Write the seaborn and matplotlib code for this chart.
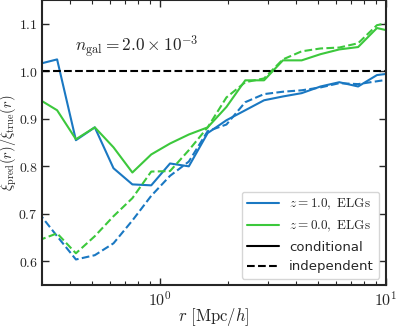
import math
import matplotlib
matplotlib.use("Agg")
import matplotlib.pyplot as plt
from matplotlib.lines import Line2D
from matplotlib.ticker import FuncFormatter, LogLocator, MultipleLocator, NullLocator
import pandas as pd
import seaborn as sns

# separation bins [Mpc/h]
r_bins = [0.289, 0.350, 0.424, 0.514, 0.622, 0.754, 0.914, 1.107, 1.341, 1.625,
          1.968, 2.384, 2.888, 3.499, 4.239, 5.135, 6.221, 7.536, 9.13, 11.06]

# xi_pred / xi_true
z1_conditional = [1.015, 1.025, 0.855, 0.882, 0.796, 0.762, 0.760, 0.806, 0.800, 0.870,
                  0.897, 0.918, 0.939, 0.947, 0.954, 0.968, 0.977, 0.968, 0.992, 0.997]
z1_independent = [0.703, 0.653, 0.604, 0.613, 0.638, 0.686, 0.738, 0.780, 0.810, 0.874,
                  0.888, 0.935, 0.952, 0.957, 0.960, 0.966, 0.975, 0.973, 0.979, 0.985]
z0_conditional = [0.942, 0.918, 0.857, 0.882, 0.840, 0.787, 0.825, 0.848, 0.867, 0.882,
                  0.925, 0.981, 0.981, 1.023, 1.023, 1.036, 1.046, 1.051, 1.091, 1.082]
z0_independent = [0.644, 0.659, 0.617, 0.653, 0.695, 0.733, 0.789, 0.790, 0.834, 0.882,
                  0.945, 0.977, 0.985, 1.025, 1.042, 1.048, 1.050, 1.059, 1.097, 1.105]

samples = [r"$z=1.0,\ {\rm ELGs}$", r"$z=0.0,\ {\rm ELGs}$"]
methods = ["conditional", "independent"]
colors = {samples[0]: "#1a78c2", samples[1]: "#3cc83c"}

rows = []
for sample, method, vals in [(samples[0], methods[0], z1_conditional),
                             (samples[0], methods[1], z1_independent),
                             (samples[1], methods[0], z0_conditional),
                             (samples[1], methods[1], z0_independent)]:
    for r, v in zip(r_bins, vals):
        rows.append({"r": r, "ratio": v, "sample": sample, "method": method})
df = pd.DataFrame(rows)

sns.set_style("ticks")
plt.rcParams["font.family"] = ["DejaVu Sans"]
plt.rcParams["mathtext.fontset"] = "cm"

fig = plt.figure(figsize=(3.98, 3.27), dpi=100)
ax = fig.add_axes([0.1055, 0.128, 0.864, 0.872])

sns.lineplot(data=df, x="r", y="ratio", hue="sample", style="method",
             palette=colors, dashes={"conditional": "", "independent": (3.7, 1.6)},
             hue_order=samples, style_order=methods,
             linewidth=1.5, legend=False, ax=ax, estimator=None)

ax.axhline(1.0, color="black", ls="--", lw=1.5, dashes=(3.7, 1.6))

ax.set_xscale("log")
ax.set_xlim(0.3, 10)
ax.set_ylim(0.55, 1.15)

ax.xaxis.set_major_locator(LogLocator(base=10))
ax.xaxis.set_minor_locator(LogLocator(base=10, subs=range(2, 10)))
ax.xaxis.set_major_formatter(FuncFormatter(lambda v, p: r"$10^{%d}$" % round(math.log10(v))))
ax.xaxis.set_minor_formatter(FuncFormatter(lambda v, p: ""))
ax.yaxis.set_major_locator(MultipleLocator(0.1))
ax.yaxis.set_minor_locator(NullLocator())
ax.yaxis.set_major_formatter(FuncFormatter(lambda v, p: r"$%.1f$" % v))

ax.tick_params(which="both", direction="in", top=True, right=True)
ax.tick_params(axis="x", labelsize=11.5, pad=4)
ax.tick_params(axis="y", labelsize=10, pad=3)
ax.tick_params(which="major", length=5, width=1.0)
ax.tick_params(which="minor", length=3, width=0.8)
for s in ax.spines.values():
    s.set_linewidth(1.5)

ax.set_xlabel(r"$r\ [{\rm Mpc}/h]$", fontsize=12)
ax.set_ylabel(r"$\xi_{\rm pred}(r)/\xi_{\rm true}(r)$", fontsize=10.5)
ax.xaxis.set_label_coords(0.5, -0.072)
ax.yaxis.set_label_coords(-0.066, 0.5)

ax.text(0.095, 0.835, r"$n_{\rm gal} = 2.0 \times 10^{-3}$", transform=ax.transAxes,
        fontsize=12.5, va="center", ha="left")

handles = [Line2D([], [], color=colors[samples[0]], lw=1.5),
           Line2D([], [], color=colors[samples[1]], lw=1.5),
           Line2D([], [], color="black", lw=1.5),
           Line2D([], [], color="black", lw=1.5, ls="--", dashes=(3.7, 1.6))]
labels = samples + methods
ax.legend(handles, labels, loc="lower right", fontsize=9.5, handlelength=2.4)

fig.savefig("out.png", dpi=100)
